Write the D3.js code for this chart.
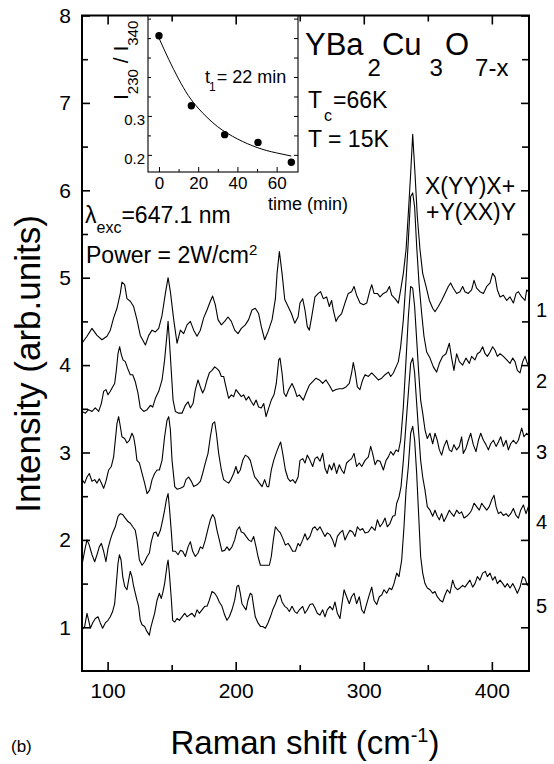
<!DOCTYPE html>
<html>
<head>
<meta charset="utf-8">
<script src="https://d3js.org/d3.v7.min.js"></script>
<style>
body { margin: 0; background: #fff; }
svg text { font-family: "Liberation Sans", Arial, sans-serif; fill: #000; }
.frame { fill: none; stroke: #000; stroke-width: 2; }
.inset-frame { fill: none; stroke: #000; stroke-width: 1.1; }
.spec { fill: none; stroke: #000; stroke-width: 1.1; stroke-linejoin: round; }
.fit { fill: none; stroke: #000; stroke-width: 1; }
.axis path { display: none; }
.axis line { stroke: #000; stroke-width: 1.6; }
.inset-axis line { stroke: #000; stroke-width: 1; }
</style>
</head>
<body>
<div class="chart"></div>
<script>
const WIDTH = 554;
const HEIGHT = 764;
const LEFT = 82, RIGHT = 529, TOP = 15.5, BOTTOM = 671;
const IN_LEFT = 148, IN_RIGHT = 298, IN_TOP = 15.5, IN_BOTTOM = 172;

// axes
var ramanDomain = [80, 429];
var intensityDomain = [0.5, 8];
var ramanTicks = [100, 200, 300, 400];
var ramanMinor = [150, 250, 350];
var intensityTicks = [1, 2, 3, 4, 5, 6, 7, 8];
var intensityMinor = [1.5, 2.5, 3.5, 4.5, 5.5, 6.5, 7.5];

// spectra, [Raman shift, intensity]
var spectrum1 = [[80,4.25],[83.9,4.33],[87.8,4.42],[91.7,4.34],[95.6,4.29],[99.5,4.33],[102.1,4.40],[104.7,4.54],[107.3,4.65],[109.9,4.82],[111.2,4.95],[113.3,4.92],[115.1,4.76],[117.7,4.73],[120.3,4.67],[122.9,4.52],[125.5,4.34],[129.5,4.23],[132.1,4.34],[134.7,4.40],[137.3,4.38],[139.9,4.42],[142.5,4.57],[145.1,4.82],[147.2,5.00],[149.0,4.84],[151.6,4.52],[154.2,4.25],[156.8,4.40],[159.4,4.36],[162.0,4.46],[164.6,4.50],[167.2,4.40],[169.8,4.33],[172.4,4.40],[175.0,4.54],[177.6,4.63],[180.2,4.73],[182.0,4.79],[184.1,4.69],[186.2,4.52],[188.8,4.46],[191.4,4.50],[194.0,4.55],[196.6,4.50],[199.2,4.40],[201.8,4.36],[204.4,4.42],[207.5,4.46],[210.1,4.52],[212.7,4.63],[215.3,4.65],[217.9,4.59],[220.0,4.44],[222.6,4.29],[225.2,4.38],[228.4,4.52],[231.0,4.76],[232.3,5.05],[234.1,5.30],[236.2,5.05],[238.3,4.75],[240.9,4.67],[243.5,4.59],[246.1,4.48],[248.7,4.55],[250.2,4.71],[252.3,4.76],[254.1,4.63],[255.9,4.44],[257.5,4.40],[259.3,4.55],[261.9,4.78],[264.5,4.82],[266.3,4.84],[268.4,4.76],[271.0,4.78],[273.1,4.67],[274.9,4.74],[276.2,4.63],[278.3,4.50],[280.1,4.55],[282.7,4.59],[285.3,4.71],[287.9,4.82],[290.5,4.84],[292.4,4.90],[294.4,4.80],[297.1,4.71],[299.7,4.69],[302.3,4.71],[304.9,4.86],[306.2,4.92],[308.0,4.82],[310.6,4.82],[312.7,4.78],[315.3,4.82],[317.9,4.84],[320.0,4.90],[321.8,4.80],[324.4,4.76],[327.0,4.71],[328.8,4.86],[330.9,5.05],[333.0,5.32],[334.8,5.74],[336.6,6.19],[338.2,6.64],[340.0,6.19],[341.8,5.70],[343.9,5.32],[346.0,5.05],[348.6,4.90],[351.2,4.74],[353.8,4.65],[355.6,4.61],[358.2,4.67],[360.8,4.74],[363.4,4.82],[366.0,4.90],[367.8,4.94],[369.9,4.88],[372.5,4.82],[375.1,4.84],[377.2,4.90],[379.0,4.84],[381.6,4.82],[384.2,4.86],[386.1,4.97],[388.1,4.88],[390.7,4.84],[393.4,4.82],[396.0,4.90],[398.6,4.94],[400.6,5.05],[402.5,5.01],[404.3,4.86],[406.4,4.78],[409.0,4.80],[411.6,4.74],[414.2,4.78],[416.8,4.71],[418.9,4.82],[420.7,4.84],[423.3,4.78],[425.9,4.74],[427.2,4.86],[429.8,4.82]];

var spectrum2 = [[80,3.47],[82.6,3.45],[85.2,3.49],[87.8,3.47],[90.4,3.51],[93.0,3.47],[95.1,3.56],[96.9,3.70],[98.7,3.72],[100.3,3.66],[102.1,3.70],[103.9,3.75],[105.5,3.79],[106.8,3.94],[108.1,4.13],[109.4,4.21],[110.7,4.12],[112.0,4.06],[113.8,4.04],[115.7,3.96],[117.7,3.89],[119.6,3.89],[121.6,3.81],[123.7,3.68],[125.5,3.51],[128.2,3.47],[130.8,3.49],[133.4,3.54],[135.2,3.52],[137.3,3.62],[139.9,3.70],[142.5,3.83],[144.5,4.06],[146.4,4.36],[147.2,4.50],[148.2,4.29],[149.8,3.91],[151.1,3.60],[152.9,3.47],[155.5,3.45],[158.1,3.45],[160.7,3.54],[162.8,3.58],[164.6,3.51],[166.7,3.56],[168.5,3.72],[170.6,3.83],[172.4,3.75],[174.2,3.68],[175.8,3.73],[177.6,3.83],[179.4,3.91],[181.5,3.94],[183.6,3.98],[185.4,3.96],[187.2,3.93],[188.8,3.87],[190.6,3.87],[192.4,3.75],[194.5,3.62],[196.6,3.66],[198.4,3.64],[200.2,3.72],[202.3,3.68],[204.4,3.64],[206.2,3.66],[208.1,3.60],[210.1,3.64],[212.2,3.58],[214.0,3.54],[215.9,3.60],[217.9,3.52],[220.0,3.51],[221.9,3.56],[223.7,3.41],[225.8,3.51],[227.8,3.60],[229.9,3.66],[231.7,3.79],[233.6,4.06],[234.6,4.08],[236.2,3.91],[237.7,3.68],[239.3,3.64],[241.4,3.72],[244.0,3.79],[246.1,3.72],[247.9,3.64],[249.7,3.66],[252.8,3.60],[254.9,3.68],[257.5,3.77],[260.1,3.81],[262.7,3.85],[265.3,3.83],[267.9,3.79],[270.5,3.83],[273.1,3.77],[275.7,3.70],[278.3,3.72],[280.9,3.73],[283.5,3.73],[286.1,3.75],[288.7,3.79],[290.5,3.91],[291.8,4.03],[293.4,3.91],[295.0,3.75],[297.0,3.72],[299.1,3.83],[301.0,3.89],[303.6,3.87],[306.2,3.91],[308.8,3.87],[311.4,3.83],[314.0,3.85],[316.6,3.89],[319.2,3.92],[321.0,3.87],[323.1,3.91],[325.2,3.98],[327.0,4.04],[328.8,4.21],[330.9,4.52],[333.0,4.97],[334.8,5.43],[336.6,5.93],[338.2,5.97],[339.7,5.81],[341.3,5.36],[343.1,4.94],[345.2,4.59],[347.0,4.33],[349.1,4.15],[351.7,4.08],[354.3,3.98],[356.9,3.92],[359.0,4.02],[361.6,4.10],[364.2,4.13],[366.8,4.25],[368.6,4.08],[370.4,3.94],[372.5,4.13],[374.6,4.04],[377.2,4.00],[379.8,4.08],[382.4,4.02],[384.2,4.10],[386.8,4.06],[388.7,4.13],[390.7,4.15],[392.8,4.21],[394.7,4.13],[396.5,4.10],[398.6,4.15],[400.6,4.21],[402.5,4.17],[404.3,4.10],[406.4,4.13],[409.0,4.10],[411.6,4.06],[414.2,4.02],[416.3,4.08],[418.1,4.04],[419.9,3.94],[422.0,3.91],[424.1,4.04],[425.9,4.10],[427.7,4.02],[429.8,3.96]];

var spectrum3 = [[80,2.69],[82.1,2.65],[83.9,2.72],[85.7,2.76],[87.8,2.67],[89.9,2.69],[91.7,2.65],[93.5,2.70],[95.1,2.65],[96.9,2.59],[98.7,2.67],[100.8,2.80],[102.9,2.84],[104.7,2.95],[106.0,3.14],[107.3,3.33],[108.6,3.41],[109.9,3.30],[111.2,3.18],[113.3,3.16],[115.1,3.11],[117.0,3.14],[119.0,3.22],[120.3,3.18],[121.6,3.07],[122.9,2.91],[124.8,2.88],[126.9,2.76],[128.9,2.65],[130.8,2.53],[132.8,2.57],[134.7,2.69],[136.7,2.76],[138.6,2.80],[140.4,2.80],[142.5,2.91],[144.5,3.18],[146.4,3.37],[147.7,3.41],[149.0,3.26],[150.3,2.91],[152.4,2.61],[154.2,2.58],[156.8,2.59],[159.4,2.61],[161.2,2.69],[163.3,2.72],[165.4,2.67],[167.2,2.61],[169.8,2.63],[172.4,2.67],[174.2,2.76],[176.3,2.88],[178.4,2.99],[180.2,3.18],[182.0,3.33],[183.6,3.35],[184.9,3.22],[186.7,2.99],[188.8,2.80],[190.6,2.69],[192.4,2.67],[194.5,2.65],[196.3,2.69],[198.4,2.76],[200.2,2.84],[201.8,2.76],[203.6,2.80],[205.5,2.91],[207.5,2.97],[209.6,2.95],[211.4,2.91],[213.3,2.80],[214.8,2.72],[216.6,2.69],[218.5,2.65],[220.6,2.61],[222.6,2.69],[224.5,2.61],[225.8,2.61],[227.8,2.80],[229.7,2.91],[231.5,2.99],[233.6,3.07],[235.1,3.12],[236.7,2.99],[238.8,2.80],[240.9,2.70],[242.7,2.67],[244.5,2.69],[246.6,2.65],[248.7,2.72],[250.2,2.91],[252.3,2.93],[254.1,2.88],[255.9,2.97],[258.0,2.91],[260.1,2.84],[261.9,2.93],[263.7,2.95],[265.8,2.90],[267.9,2.99],[269.7,2.82],[271.5,2.76],[273.1,2.86],[274.9,2.80],[276.7,2.88],[278.8,2.76],[280.9,2.86],[282.7,2.80],[284.6,2.76],[286.6,2.88],[288.7,2.91],[290.5,2.93],[292.4,2.99],[294.4,2.84],[296.5,2.88],[298.4,2.84],[301.0,2.91],[303.6,2.95],[305.4,3.07],[306.9,2.99],[308.8,2.86],[310.6,2.91],[312.7,2.90],[315.3,2.80],[317.4,2.91],[319.2,2.95],[321.0,3.01],[323.1,2.97],[325.2,3.03],[327.0,3.01],[328.8,3.14],[330.9,3.52],[333.0,4.06],[334.8,4.55],[336.6,4.90],[338.2,4.88],[339.7,4.67],[341.3,4.29],[342.9,3.91],[344.4,3.60],[346.0,3.45],[347.8,3.26],[349.6,3.16],[351.7,3.22],[353.8,3.10],[355.6,3.22],[357.4,3.14],[359.0,3.03],[360.8,2.97],[362.6,3.07],[364.7,3.14],[366.8,3.03],[368.6,3.01],[370.4,3.09],[372.5,3.03],[374.6,3.07],[376.4,3.18],[377.7,2.99],[379.8,3.05],[381.6,3.14],[383.5,3.22],[385.5,3.09],[387.6,3.01],[389.5,3.14],[391.3,3.22],[393.4,3.14],[395.4,3.09],[397.3,3.03],[399.1,3.10],[401.2,3.14],[403.3,3.07],[405.1,3.12],[406.9,3.18],[409.0,3.07],[411.1,3.14],[412.9,3.03],[414.7,3.10],[416.8,3.14],[418.9,3.10],[420.7,3.14],[423.3,3.28],[425.1,3.18],[427.2,3.22],[429.8,3.18]];

var spectrum4 = [[80,1.71],[82.1,1.88],[83.9,2.00],[85.7,1.94],[87.8,1.83],[89.9,1.75],[91.7,1.83],[93.5,1.92],[95.1,1.96],[96.9,1.87],[98.7,1.75],[100.3,1.90],[102.1,2.00],[103.9,2.08],[106.0,2.15],[108.1,2.27],[109.9,2.30],[111.8,2.29],[113.8,2.25],[115.9,2.21],[117.7,2.19],[119.6,2.15],[121.6,2.11],[122.9,2.00],[124.8,1.77],[126.9,1.71],[128.9,1.75],[130.8,1.81],[132.6,1.85],[134.1,1.98],[136.0,2.08],[137.8,2.09],[139.3,2.04],[141.2,2.11],[143.0,2.23],[144.5,2.34],[145.9,2.46],[147.2,2.53],[148.2,2.38],[149.8,2.08],[150.8,1.87],[152.9,1.87],[155.0,1.83],[156.8,1.88],[158.6,1.87],[160.7,1.81],[162.8,1.92],[164.6,1.98],[166.4,1.87],[168.5,1.81],[170.6,1.85],[172.4,1.92],[174.2,1.90],[176.3,2.00],[178.4,2.13],[180.2,2.23],[182.0,2.29],[183.6,2.25],[185.4,2.11],[187.2,2.00],[189.3,1.87],[191.4,1.88],[193.2,1.92],[195.0,1.88],[197.1,1.92],[199.2,2.00],[201.0,2.11],[202.9,2.15],[204.4,2.09],[206.2,2.08],[208.1,2.04],[210.1,2.00],[212.2,1.98],[214.0,2.04],[215.9,1.92],[217.4,1.81],[219.3,1.71],[221.9,1.71],[224.5,1.71],[226.3,1.71],[227.8,1.81],[229.4,2.00],[231.0,2.15],[233.0,2.11],[234.9,2.08],[236.7,2.02],[238.8,1.94],[240.9,1.96],[242.7,1.92],[244.5,1.87],[246.6,1.87],[248.7,1.96],[250.2,1.93],[252.3,2.00],[254.1,2.07],[255.9,2.00],[258.0,2.04],[260.1,2.13],[261.9,2.15],[263.7,2.11],[265.8,2.15],[267.9,2.09],[269.7,2.04],[271.5,2.08],[273.6,2.06],[275.7,2.00],[277.5,1.92],[279.4,2.04],[281.4,2.08],[283.5,2.11],[285.3,2.00],[287.2,2.06],[289.2,2.11],[291.3,2.09],[293.2,2.04],[295.0,2.15],[297.1,2.11],[299.1,2.13],[301.0,2.08],[303.6,2.09],[306.2,2.15],[308.8,2.11],[310.6,2.23],[312.7,2.15],[314.7,2.19],[316.6,2.25],[318.4,2.15],[320.5,2.19],[322.6,2.27],[324.4,2.28],[325.7,2.42],[327.5,2.49],[329.1,2.61],[330.9,2.91],[333.0,3.33],[334.8,3.68],[336.6,4.02],[338.2,4.08],[339.7,3.91],[341.3,3.56],[342.9,3.22],[344.4,2.91],[346.0,2.72],[347.8,2.57],[349.6,2.38],[351.7,2.34],[353.8,2.27],[355.6,2.34],[357.4,2.27],[359.0,2.23],[360.8,2.30],[362.6,2.21],[364.7,2.27],[366.8,2.34],[368.6,2.30],[370.4,2.27],[372.5,2.34],[374.6,2.30],[376.4,2.32],[378.3,2.25],[380.3,2.27],[382.4,2.30],[384.2,2.34],[386.1,2.42],[388.1,2.38],[390.2,2.34],[392.1,2.42],[393.9,2.38],[396.0,2.34],[398.0,2.38],[399.9,2.46],[401.7,2.51],[403.3,2.38],[405.1,2.30],[406.9,2.32],[409.0,2.28],[411.1,2.30],[412.9,2.27],[414.7,2.30],[416.8,2.36],[418.9,2.28],[420.7,2.25],[422.5,2.34],[424.6,2.40],[426.7,2.30],[428.5,2.38],[429.8,2.44]];

var spectrum5 = [[80,0.97],[82.1,1.01],[83.9,1.16],[85.2,1.08],[86.5,0.99],[88.3,1.05],[90.4,1.10],[92.5,1.12],[94.3,1.05],[96.1,0.99],[98.2,1.05],[100.3,1.08],[102.1,1.12],[103.9,1.18],[105.5,1.27],[106.8,1.50],[108.1,1.73],[109.2,1.83],[110.5,1.77],[111.8,1.58],[113.3,1.47],[115.1,1.43],[116.4,1.54],[117.7,1.64],[119.0,1.58],[120.3,1.47],[121.6,1.39],[122.9,1.31],[124.2,1.24],[125.5,1.08],[126.9,1.03],[128.9,1.01],[130.8,0.95],[132.6,0.91],[133.6,0.99],[135.2,1.08],[136.7,1.16],[138.6,1.31],[140.4,1.39],[141.9,1.33],[143.0,1.39],[144.5,1.50],[146.4,1.71],[147.2,1.77],[148.2,1.62],[149.8,1.31],[150.8,1.08],[152.4,1.06],[154.2,1.10],[156.0,1.08],[158.1,1.12],[160.2,1.16],[162.0,1.12],[163.8,1.14],[165.9,1.16],[168.0,1.12],[169.8,1.20],[171.6,1.16],[173.7,1.20],[175.8,1.24],[177.6,1.24],[179.4,1.31],[181.5,1.41],[183.6,1.39],[185.4,1.35],[187.2,1.29],[189.3,1.24],[191.4,1.14],[193.2,1.08],[195.0,1.12],[197.1,1.20],[199.2,1.31],[201.0,1.47],[202.3,1.48],[203.6,1.39],[204.9,1.27],[206.2,1.24],[208.1,1.20],[209.6,1.31],[211.4,1.39],[212.7,1.37],[214.0,1.24],[215.3,1.12],[217.4,1.05],[219.3,1.01],[221.1,1.01],[223.2,0.99],[225.2,1.05],[227.1,1.12],[228.9,1.20],[231.0,1.27],[233.0,1.35],[234.6,1.37],[236.2,1.29],[238.3,1.24],[240.1,1.22],[241.9,1.18],[244.0,1.24],[246.1,1.18],[247.9,1.16],[249.7,1.20],[252.3,1.24],[254.1,1.16],[255.9,1.20],[258.0,1.26],[260.1,1.27],[261.9,1.22],[263.7,1.16],[265.8,1.14],[267.9,1.20],[269.7,1.12],[271.5,1.20],[273.6,1.24],[275.7,1.20],[277.5,1.29],[279.4,1.16],[281.4,1.10],[283.0,1.27],[284.6,1.43],[286.6,1.35],[288.7,1.27],[290.5,1.35],[292.4,1.39],[294.4,1.27],[296.5,1.35],[298.4,1.20],[300.2,1.16],[302.3,1.27],[304.3,1.37],[306.2,1.46],[308.0,1.31],[310.1,1.26],[312.1,1.35],[314.0,1.37],[315.8,1.43],[317.9,1.39],[320.0,1.45],[321.8,1.43],[323.6,1.50],[325.7,1.62],[327.5,1.58],[329.6,1.77],[331.4,2.15],[333.0,2.57],[334.8,2.84],[336.6,3.22],[338.2,3.30],[339.7,3.14],[341.3,2.76],[342.9,2.27],[344.4,1.81],[346.0,1.62],[347.8,1.50],[349.6,1.45],[351.7,1.43],[353.8,1.39],[355.6,1.41],[357.4,1.35],[359.5,1.31],[361.6,1.29],[363.4,1.37],[365.2,1.43],[367.3,1.39],[369.4,1.54],[371.2,1.46],[373.1,1.43],[375.1,1.45],[377.2,1.48],[379.0,1.46],[380.9,1.50],[382.9,1.54],[385.0,1.46],[386.8,1.50],[388.7,1.58],[390.7,1.54],[392.8,1.62],[394.9,1.64],[396.5,1.58],[398.6,1.62],[400.6,1.54],[402.5,1.58],[404.3,1.50],[406.4,1.54],[408.5,1.50],[410.3,1.46],[412.1,1.50],[414.2,1.45],[416.3,1.50],[418.1,1.45],[419.9,1.39],[422.0,1.46],[424.1,1.58],[425.9,1.56],[427.7,1.48],[429.8,1.54]];

var spectra = [spectrum1, spectrum2, spectrum3, spectrum4, spectrum5];
var curveNames = ["1", "2", "3", "4", "5"];
var curveLabelLevel = [4.63, 3.82, 3.01, 2.20, 1.24];

// inset: intensity ratio vs time
var timeDomain = [-5.6, 70.9];
var ratioDomain = [0.156, 0.558];
var measTime = [0, 16.5, 33.5, 50.5, 67.5];
var measRatio = [0.506, 0.326, 0.252, 0.232, 0.181];
var fitTime = [0, 5, 10, 15, 20, 25, 30, 35, 40, 45, 50, 55, 60, 67.5];
var fitRatio = [0.50, 0.445, 0.395, 0.352, 0.32, 0.294, 0.272, 0.255, 0.241, 0.229, 0.219, 0.211, 0.205, 0.197];
var timeTicks = [0, 20, 40, 60];
var timeMinor = [10, 30, 50];
var ratioTicks = [0.2, 0.3];
var ratioMinor = [0.25, 0.35, 0.4, 0.45, 0.5, 0.55];

var translate = function(x, y){
	return "translate(" + x + "," + y + ")";
};

var xScale = d3.scaleLinear().domain(ramanDomain).range([LEFT, RIGHT]);
var yScale = d3.scaleLinear().domain(intensityDomain).range([BOTTOM, TOP]);

var svg = d3.select(".chart").append("svg")
	.attr("width", WIDTH)
	.attr("height", HEIGHT);

svg.append("rect").attr("width", WIDTH).attr("height", HEIGHT).attr("fill", "#fff");

var styleAxis = function(g, size){
	g.attr("font-family", null).attr("font-size", size).classed("axis", true);
	return g;
};

// main axes, ticks pointing inwards
var drawMainAxes = function(){
	svg.append("g").attr("transform", translate(0, BOTTOM))
		.call(d3.axisBottom(xScale).tickValues(ramanTicks).tickSize(-9).tickSizeOuter(0).tickPadding(12))
		.call(styleAxis, 21);
	svg.append("g").attr("transform", translate(0, BOTTOM))
		.call(d3.axisBottom(xScale).tickValues(ramanMinor).tickSize(-6).tickSizeOuter(0).tickFormat(""))
		.call(styleAxis, 21);
	svg.append("g").attr("transform", translate(0, TOP))
		.call(d3.axisTop(xScale).tickValues(ramanTicks).tickSize(-9).tickSizeOuter(0).tickFormat(""))
		.call(styleAxis, 21);
	svg.append("g").attr("transform", translate(0, TOP))
		.call(d3.axisTop(xScale).tickValues(ramanMinor).tickSize(-6).tickSizeOuter(0).tickFormat(""))
		.call(styleAxis, 21);

	svg.append("g").attr("transform", translate(LEFT, 0))
		.call(d3.axisLeft(yScale).tickValues(intensityTicks).tickSize(-8).tickSizeOuter(0).tickPadding(11))
		.call(styleAxis, 21);
	svg.append("g").attr("transform", translate(LEFT, 0))
		.call(d3.axisLeft(yScale).tickValues(intensityMinor).tickSize(-6).tickSizeOuter(0).tickFormat(""))
		.call(styleAxis, 21);
	svg.append("g").attr("transform", translate(RIGHT, 0))
		.call(d3.axisRight(yScale).tickValues(intensityTicks).tickSize(-8).tickSizeOuter(0).tickFormat(""))
		.call(styleAxis, 21);
	svg.append("g").attr("transform", translate(RIGHT, 0))
		.call(d3.axisRight(yScale).tickValues(intensityMinor).tickSize(-7).tickSizeOuter(0).tickFormat(""))
		.call(styleAxis, 21);

	svg.append("rect").classed("frame", true)
		.attr("x", LEFT).attr("y", TOP)
		.attr("width", RIGHT - LEFT).attr("height", BOTTOM - TOP);
};

var drawSpectra = function(){
	svg.append("clipPath").attr("id", "plotclip")
		.append("rect").attr("x", LEFT).attr("y", TOP)
		.attr("width", RIGHT - LEFT).attr("height", BOTTOM - TOP);

	var line = d3.line()
		.x(function(d){ return xScale(d[0]); })
		.y(function(d){ return yScale(d[1]); });

	svg.append("g").attr("clip-path", "url(#plotclip)")
		.selectAll("path")
		.data(spectra)
		.enter()
		.append("path")
		.classed("spec", true)
		.attr("d", line);

	svg.selectAll(".curve-name")
		.data(curveNames)
		.enter()
		.append("text")
		.classed("curve-name", true)
		.attr("x", RIGHT + 7)
		.attr("y", function(d, i){ return yScale(curveLabelLevel[i]); })
		.attr("dy", "0.35em")
		.attr("font-size", 20)
		.text(function(d){ return d; });
};

var drawInset = function(){
	var ix = d3.scaleLinear().domain(timeDomain).range([IN_LEFT, IN_RIGHT]);
	var iy = d3.scaleLinear().domain(ratioDomain).range([IN_BOTTOM, IN_TOP]);

	svg.append("rect").classed("inset-frame", true)
		.attr("x", IN_LEFT).attr("y", IN_TOP)
		.attr("width", IN_RIGHT - IN_LEFT).attr("height", IN_BOTTOM - IN_TOP);

	svg.append("g").attr("transform", translate(0, IN_BOTTOM))
		.call(d3.axisBottom(ix).tickValues(timeTicks).tickSize(-5).tickSizeOuter(0).tickPadding(5))
		.call(styleAxis, 17).classed("inset-axis", true);
	svg.append("g").attr("transform", translate(0, IN_BOTTOM))
		.call(d3.axisBottom(ix).tickValues(timeMinor).tickSize(-3).tickSizeOuter(0).tickFormat(""))
		.call(styleAxis, 17).classed("inset-axis", true);

	svg.append("g").attr("transform", translate(IN_LEFT, 0))
		.call(d3.axisLeft(iy).tickValues(ratioTicks).tickSize(-4).tickSizeOuter(0).tickPadding(3).tickFormat(d3.format(".1f")))
		.call(styleAxis, 15).classed("inset-axis", true)
		.selectAll("text").attr("dy", "0.55em");
	svg.append("g").attr("transform", translate(IN_LEFT, 0))
		.call(d3.axisLeft(iy).tickValues(ratioMinor).tickSize(-3).tickSizeOuter(0).tickFormat(""))
		.call(styleAxis, 15).classed("inset-axis", true);
	svg.append("g").attr("transform", translate(IN_RIGHT, 0))
		.call(d3.axisRight(iy).tickValues(ratioTicks.concat(ratioMinor)).tickSize(-4).tickSizeOuter(0).tickFormat(""))
		.call(styleAxis, 15).classed("inset-axis", true);

	var fitLine = d3.line()
		.x(function(d, i){ return ix(fitTime[i]); })
		.y(function(d){ return iy(d); })
		.curve(d3.curveMonotoneX);

	svg.append("path").classed("fit", true).attr("d", fitLine(fitRatio));

	svg.selectAll(".meas")
		.data(measRatio)
		.enter()
		.append("circle")
		.classed("meas", true)
		.attr("cx", function(d, i){ return ix(measTime[i]); })
		.attr("cy", function(d){ return iy(d); })
		.attr("r", 3.7)
		.attr("fill", "#000");

	// I230 / I340 label
	var yl = svg.append("text")
		.attr("transform", translate(128, 100) + " rotate(-90)")
		.attr("font-size", 21);
	yl.append("tspan").text("I");
	yl.append("tspan").attr("font-size", 15).attr("dy", 10).text("230");
	yl.append("tspan").attr("dy", -10).text(" / I");
	yl.append("tspan").attr("font-size", 15).attr("dy", 10).text("340");

	var tl = svg.append("text").attr("x", 205).attr("y", 83).attr("font-size", 18);
	tl.append("tspan").text("t");
	tl.append("tspan").attr("font-size", 12).attr("dy", 8).attr("dx", -1).text("1");
	tl.append("tspan").attr("dy", -8).attr("dx", 1).text("= 22 min");

	svg.append("text").attr("x", 268).attr("y", 210).attr("font-size", 18).text("time (min)");
};

var drawLabels = function(){
	var f = svg.append("text").attr("x", 305).attr("y", 55).attr("font-size", 31);
	f.append("tspan").text("YBa");
	f.append("tspan").attr("font-size", 24).attr("dy", 21).attr("dx", 4).text("2");
	f.append("tspan").attr("dy", -21).attr("dx", 1).text("Cu");
	f.append("tspan").attr("font-size", 24).attr("dy", 21).attr("dx", 8).text("3");
	f.append("tspan").attr("dy", -21).attr("dx", 2).text("O");
	f.append("tspan").attr("font-size", 24).attr("dy", 21).attr("dx", 6).text("7-x");

	var tc = svg.append("text").attr("x", 308).attr("y", 108).attr("font-size", 23);
	tc.append("tspan").text("T");
	tc.append("tspan").attr("font-size", 16).attr("dy", 13).attr("dx", 2).text("c");
	tc.append("tspan").attr("dy", -13).attr("dx", 1).text("=66K");

	svg.append("text").attr("x", 308).attr("y", 147).attr("font-size", 23).text("T = 15K");
	svg.append("text").attr("x", 425).attr("y", 194).attr("font-size", 23).text("X(YY)X+");
	svg.append("text").attr("x", 426).attr("y", 220).attr("font-size", 23).text("+Y(XX)Y");

	var lam = svg.append("text").attr("x", 85).attr("y", 223).attr("font-size", 23);
	lam.append("tspan").text("\u03bb");
	lam.append("tspan").attr("font-size", 16).attr("dy", 10).text("exc");
	lam.append("tspan").attr("dy", -10).text("=647.1 nm");

	var pw = svg.append("text").attr("x", 86).attr("y", 263).attr("font-size", 23);
	pw.append("tspan").text("Power = 2W/cm");
	pw.append("tspan").attr("font-size", 15).attr("dy", -8).text("2");

	svg.append("text")
		.attr("transform", translate(40, 364) + " rotate(-90)")
		.attr("text-anchor", "middle")
		.attr("font-size", 35)
		.text("Intensity (arb.units)");

	var xl = svg.append("text").attr("x", 305).attr("y", 754)
		.attr("text-anchor", "middle").attr("font-size", 33);
	xl.append("tspan").text("Raman shift (cm");
	xl.append("tspan").attr("font-size", 20).attr("dy", -12).text("-1");
	xl.append("tspan").attr("dy", 12).text(")");

	svg.append("text").attr("x", 11).attr("y", 752).attr("font-size", 17).text("(b)");
};

drawMainAxes();
drawSpectra();
drawInset();
drawLabels();
</script>
</body>
</html>
